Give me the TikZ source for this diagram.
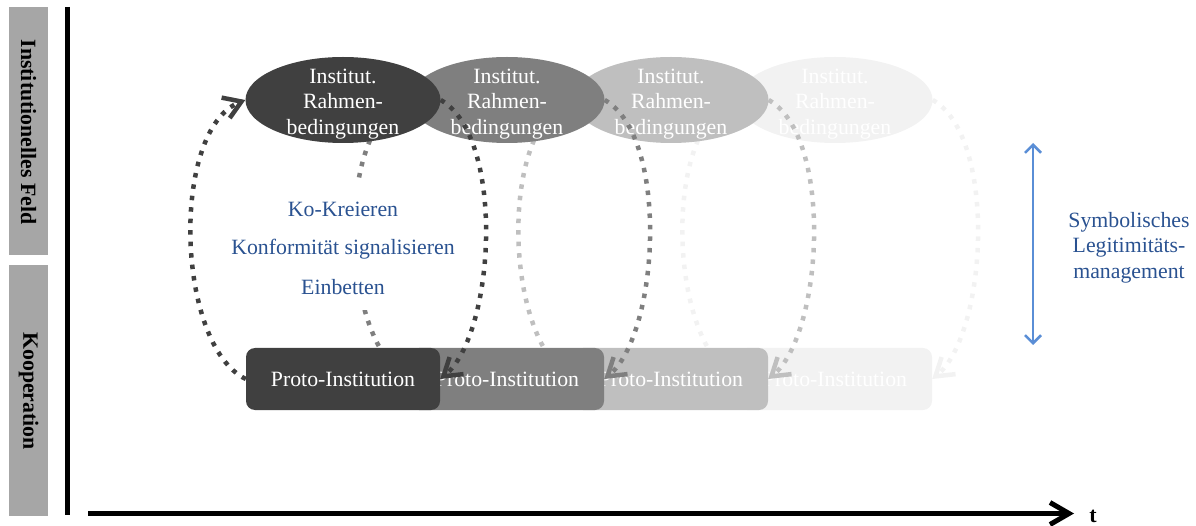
\documentclass[tikz,border=0pt]{standalone}
\usepackage{fontspec}
\setmainfont{Liberation Serif}
\usetikzlibrary{arrows.meta,shapes.geometric}
\definecolor{cA}{HTML}{404040}
\definecolor{cB}{HTML}{7F7F7F}
\definecolor{cC}{HTML}{BFBFBF}
\definecolor{cD}{HTML}{F2F2F2}
\definecolor{barg}{HTML}{A6A6A6}
\definecolor{txtblue}{HTML}{2A5291}
\definecolor{arrblue}{HTML}{5A8ED6}
\newcommand{\mfs}{\fontsize{21.8pt}{25.5pt}\selectfont}
\newcommand{\drawcycle}[3]{%
  \node[ell, fill=#3] (e#1) at (#2,100) {};
  \node[etxt] (et#1) at (#2,104) {Institut.\\Rahmen-\\bedingungen};
  \node[proto, fill=#3] (r#1) at (#2,379) {Proto-Institution};
  \draw[cyc, draw=#3] (r#1.west) .. controls +(-70,-34) and +(-75,30) .. (e#1.west);
  \draw[cyc, draw=#3] (e#1.east) .. controls +(65,37) and +(55,-45) .. (r#1.east);
}
\begin{document}
\begin{tikzpicture}[x=1pt,y=-1pt,
  ell/.style={ellipse, minimum width=195pt, minimum height=86pt, inner sep=0pt},
  etxt/.style={align=center, text=white, font=\mfs, inner sep=0pt},
  proto/.style={rectangle, rounded corners=9pt, minimum width=194pt, minimum height=62pt, inner sep=0pt, text=white, font=\mfs},
  cyc/.style={line width=4.5pt, dash pattern=on 4.5pt off 7pt, -{Straight Barb[length=17pt,width=22pt]}},
  bar/.style={fill=barg, minimum width=39pt, inner sep=0pt},
  bartxt/.style={rotate=-90, font=\mfs\bfseries, inner sep=0pt},
  bluetxt/.style={text=txtblue, font=\mfs},
  axis/.style={line width=5pt},
]
\useasboundingbox (0,0) rectangle (1196,526);

% side bars
\node[bar, minimum height=248pt] (bar1) at (28.5,131) {};
\node[bartxt] (bar1t) at (28.5,132) {Institutionelles Feld};
\node[bar, minimum height=251pt] (bar2) at (28.5,390.5) {};
\node[bartxt] (bar2t) at (28.5,391) {Kooperation};

% axes
\coordinate (vtop) at (67,7);
\coordinate (vbot) at (67,515);
\draw[axis] (vtop) -- (vbot);
\coordinate (hs) at (88,513.5);
\coordinate (he) at (1074,513.5);
\draw[axis, -{Straight Barb[length=19pt,width=22pt]}] (hs) -- (he);
\node[font=\fontsize{22pt}{22pt}\selectfont\bfseries, anchor=base, inner sep=0pt] (tlab) at (1093,522) {t};

% cycles, back to front
\drawcycle{4}{835}{cD}
\drawcycle{3}{671}{cC}
\drawcycle{2}{507}{cB}

% central text
\node[fill=white, minimum width=240pt, minimum height=132pt, inner sep=0pt] (tbox) at (343,244) {};
\node[bluetxt, anchor=base] (k1) at (343,216.5) {Ko-Kreieren};
\node[bluetxt, anchor=base] (k2) at (343,255) {Konformität signalisieren};
\node[bluetxt, anchor=base] (k3) at (343,294.5) {Einbetten};

\drawcycle{1}{343}{cA}

% legitimacy
\coordinate (ba1) at (1033,143);
\coordinate (ba2) at (1033,345);
\draw[arrblue, line width=2.5pt, {Straight Barb[length=8pt,width=16pt]}-{Straight Barb[length=8pt,width=16pt]}] (ba1) -- (ba2);
\node[bluetxt, align=center, inner sep=0pt] (sym) at (1129,247.4) {Symbolisches\\Legitimitäts-\\management};
\end{tikzpicture}
\end{document}
